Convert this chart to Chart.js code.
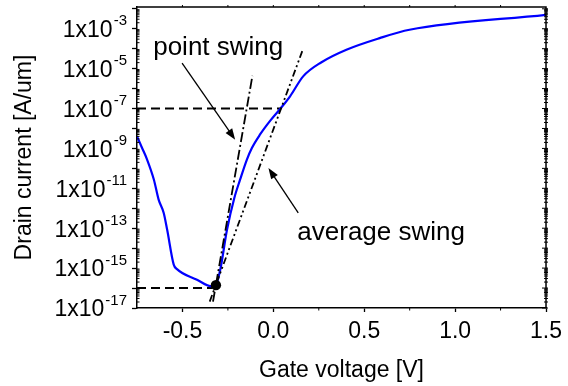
<!DOCTYPE html>
<html>
<head>
<meta charset="utf-8">
<script src="https://cdn.jsdelivr.net/npm/chart.js@4"></script>
<style>
  html, body { margin: 0; padding: 0; background: #fff; }
  #wrap { width: 568px; height: 386px; }
</style>
</head>
<body>
<div id="wrap"><canvas id="chart-id"></canvas></div>
<script>
/* ═══════════════════════════════════════
   Id–Vg curve with point / average swing
═══════════════════════════════════════ */

// ── Transfer curve ──
const gateV = [-0.75, -0.722, -0.694, -0.657, -0.631, -0.603, -0.584, -0.548, -0.53, -0.42, -0.338, -0.318,
               -0.292, -0.255, -0.215, -0.183, -0.146, -0.118, -0.073, -0.018, 0.042, 0.092, 0.164,
               0.265, 0.402, 0.585, 0.749, 1.5];
const drainI = [4.0e-9, 1.05e-9, 2.7e-10, 2.7e-11, 2.7e-12, 5.8e-13, 8.3e-14, 1.5e-15, 8.9e-16, 2.6e-16, 1.2e-16, 1.3e-16,
                8.3e-16, 8.3e-14, 3.2e-12, 2.7e-11, 2.7e-10, 1.05e-9, 5.0e-9, 2.4e-8, 1.07e-7, 4.1e-7, 4.1e-6,
                2.1e-5, 8.9e-5, 3.4e-4, 8.9e-4, 5.0e-3];

// ── Reference lines ──
const highRefV = [-0.75, 0.042];
const highRefI = [1e-7, 1e-7];
const lowRefV  = [-0.75, -0.335];
const lowRefI  = [1e-16, 1e-16];
const pointSwingV = [-0.332, -0.115];
const pointSwingI = [2.1e-17, 4.4e-6];
const avgSwingV   = [-0.350, 0.164];
const avgSwingI   = [2.1e-17, 1.0e-4];
const markV = [-0.316];
const markI = [1.4e-16];

// ── Annotations ──
const arrowPoint = { from: [-0.502, 1.9e-5],  to: [-0.21, 2.75e-9] };
const arrowAvg   = { from: [0.137, 5.8e-13],  to: [-0.027, 1.05e-10] };
const labelPoint = { text: 'point swing',   at: [-0.661, 5.0e-5] };
const labelAvg   = { text: 'average swing', at: [0.132, 2.5e-14] };

// ── Axes ──
const xMin = -0.75, xMax = 1.5;
const xTicks = [-0.5, 0, 0.5, 1.0, 1.5];
const xMinorTicks = [-0.75, -0.25, 0.25, 0.75, 1.25];
const yMin = 1e-17, yMax = 1.23e-2;
const yTickExps  = [-17, -16, -15, -14, -13, -12, -11, -10, -9, -8, -7, -6, -5, -4, -3, -2];
const yLabelExps = [-17, -15, -13, -11, -9, -7, -5, -3];

const FONT = '"Liberation Sans", Arial, sans-serif';
const pts = (xs, ys) => xs.map((v, i) => ({ x: v, y: ys[i] }));

/* ── Decorations drawn through the scales ── */
const decoPlugin = {
  id: 'deco',
  afterDraw(chart) {
    const { ctx, chartArea: a, scales: { x, y } } = chart;
    const seg = (x1, y1, x2, y2) => { ctx.beginPath(); ctx.moveTo(x1, y1); ctx.lineTo(x2, y2); ctx.stroke(); };
    ctx.save();
    ctx.strokeStyle = '#000';
    ctx.fillStyle = '#000';

    // top / right frame
    ctx.lineWidth = 1.5;
    ctx.beginPath();
    ctx.moveTo(a.left, a.top); ctx.lineTo(a.right, a.top); ctx.lineTo(a.right, a.bottom);
    ctx.stroke();

    // x minor ticks + top ticks
    ctx.lineWidth = 1;
    xMinorTicks.forEach(v => {
      const px = x.getPixelForValue(v);
      if (px > a.left + 1) seg(px, a.bottom, px, a.bottom + 2.5);
    });
    [...xTicks, ...xMinorTicks].forEach(v => {
      const px = x.getPixelForValue(v);
      if (px > a.left + 1 && px < a.right - 1) seg(px, a.top, px, a.top - 2);
    });

    // y minor ticks (left and right), major ticks on right
    for (let e = -17; e <= -2; e++) {
      for (let m = 2; m <= 9; m++) {
        const py = y.getPixelForValue(m * Math.pow(10, e));
        if (py < a.top) continue;
        seg(a.left, py, a.left + 2.5, py);
        seg(a.right - 2, py, a.right + 2, py);
      }
      const py = y.getPixelForValue(Math.pow(10, e));
      if (py >= a.top) seg(a.right - 4, py, a.right + 2, py);
    }

    // y tick labels with superscript exponents
    ctx.textBaseline = 'alphabetic';
    yLabelExps.forEach(e => {
      const py = y.getPixelForValue(Math.pow(10, e));
      ctx.font = '15px ' + FONT;
      ctx.textAlign = 'right';
      const sup = '-' + Math.abs(e);
      const supW = ctx.measureText(sup).width;
      const rx = a.left - 10;
      ctx.fillText(sup, rx, py - 3.5);
      ctx.font = '23px ' + FONT;
      ctx.fillText('1x10', rx - supW - 1, py + 8.3);
    });

    // arrows
    const arrow = ({ from, to }) => {
      const x1 = x.getPixelForValue(from[0]), y1 = y.getPixelForValue(from[1]);
      const x2 = x.getPixelForValue(to[0]),   y2 = y.getPixelForValue(to[1]);
      const ang = Math.atan2(y2 - y1, x2 - x1);
      const L = 11, W = 4;
      ctx.lineWidth = 1.3;
      seg(x1, y1, x2 - Math.cos(ang) * L * 0.8, y2 - Math.sin(ang) * L * 0.8);
      ctx.beginPath();
      ctx.moveTo(x2, y2);
      ctx.lineTo(x2 - Math.cos(ang) * L + Math.sin(ang) * W, y2 - Math.sin(ang) * L - Math.cos(ang) * W);
      ctx.lineTo(x2 - Math.cos(ang) * L - Math.sin(ang) * W, y2 - Math.sin(ang) * L + Math.cos(ang) * W);
      ctx.closePath();
      ctx.fill();
    };
    arrow(arrowPoint);
    arrow(arrowAvg);

    // labels
    ctx.font = '26px ' + FONT;
    ctx.textAlign = 'left';
    [labelPoint, labelAvg].forEach(l => {
      ctx.fillText(l.text, x.getPixelForValue(l.at[0]), y.getPixelForValue(l.at[1]));
    });
    ctx.restore();
  }
};

/* ── Chart ── */
const ctx = document.getElementById('chart-id').getContext('2d');
new Chart(ctx, {
  type: 'line',
  data: {
    datasets: [
      { data: pts(gateV, drainI), borderColor: '#0000ff', borderWidth: 2.2, pointRadius: 0,
        cubicInterpolationMode: 'monotone', order: 2 },
      { data: pts(highRefV, highRefI), borderColor: '#000', borderWidth: 2, borderDash: [9, 5], pointRadius: 0, order: 3 },
      { data: pts(lowRefV, lowRefI),   borderColor: '#000', borderWidth: 2, borderDash: [9, 5], pointRadius: 0, order: 3 },
      { data: pts(pointSwingV, pointSwingI), borderColor: '#000', borderWidth: 1.8,
        borderDash: [10, 3, 2, 3], pointRadius: 0, order: 1 },
      { data: pts(avgSwingV, avgSwingI), borderColor: '#000', borderWidth: 1.8,
        borderDash: [7, 3, 2, 3, 2, 3], pointRadius: 0, order: 1 },
      { data: pts(markV, markI), showLine: false, pointRadius: 5.2, pointBackgroundColor: '#000',
        pointBorderColor: '#000', pointBorderWidth: 0, order: 0 },
    ],
  },
  options: {
    responsive: true,
    maintainAspectRatio: false,
    animation: false,
    events: [],
    layout: { padding: { top: 7, right: 21, left: 0, bottom: 0 } },
    plugins: { legend: { display: false }, tooltip: { enabled: false } },
    scales: {
      x: {
        type: 'linear', min: xMin, max: xMax,
        afterBuildTicks: s => { s.ticks = xTicks.map(v => ({ value: v })); },
        afterFit: s => { s.height = 78; },
        ticks: { color: '#000', font: { family: FONT, size: 23 }, padding: 6,
                 maxRotation: 0, callback: v => v.toFixed(1) },
        grid: { drawOnChartArea: false, drawTicks: true, tickLength: 4, tickWidth: 1.3, tickColor: '#000' },
        border: { display: true, color: '#000', width: 1.5 },
        title: { display: true, text: 'Gate voltage [V]', color: '#000',
                 font: { family: FONT, size: 23 }, padding: { top: 0, bottom: 2 } },
      },
      y: {
        type: 'logarithmic', min: yMin, max: yMax,
        afterBuildTicks: s => { s.ticks = yTickExps.map(e => ({ value: Math.pow(10, e) })); },
        afterFit: s => { s.width = 137; },
        ticks: { display: false },
        grid: { drawOnChartArea: false, drawTicks: true, tickLength: 5, tickWidth: 1.3, tickColor: '#000' },
        border: { display: true, color: '#000', width: 1.5 },
        title: { display: true, text: 'Drain current [A/um]', color: '#000',
                 font: { family: FONT, size: 23 }, padding: { top: 11, bottom: 0 } },
      },
    },
  },
  plugins: [decoPlugin],
});
</script>
</body>
</html>
